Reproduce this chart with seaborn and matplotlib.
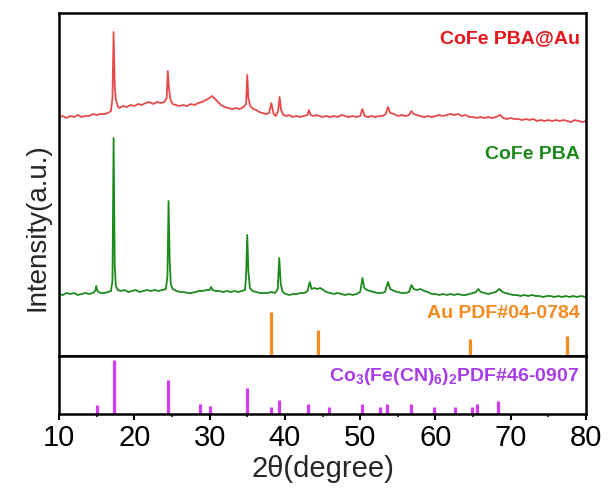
import pandas as pd
import seaborn as sns
import matplotlib.pyplot as plt
from matplotlib.ticker import MultipleLocator

# XRD traces (2theta, intensity in a.u.)
red_points = [
    (10.0, 239), (10.5, 240), (11.0, 238), (11.5, 240), (12.0, 239), (12.5, 241), (13.0, 239),
    (13.5, 240), (14.0, 240), (14.5, 242), (15.0, 241), (15.5, 242), (16.0, 242), (16.5, 243),
    (16.9, 245), (17.1, 258), (17.25, 324), (17.4, 270), (17.55, 256), (17.8, 250), (18.0, 248),
    (18.5, 250), (19.0, 249), (19.5, 251), (20.0, 250), (20.5, 252), (21.0, 251), (21.5, 253),
    (22.0, 254), (22.5, 252), (23.0, 254), (23.5, 253), (24.0, 254), (24.3, 258), (24.45, 285),
    (24.6, 268), (24.8, 256), (25.1, 252), (25.5, 251), (26.0, 250), (26.5, 251), (27.0, 250),
    (27.5, 252), (28.0, 251), (28.5, 253), (29.0, 254), (29.5, 256), (30.0, 258), (30.3, 260),
    (30.6, 258), (31.0, 255), (31.5, 251), (32.0, 249), (32.5, 248), (33.0, 247), (33.5, 248),
    (34.0, 247), (34.5, 249), (34.85, 252), (35.0, 281), (35.15, 258), (35.4, 250), (35.8, 247),
    (36.2, 246), (36.6, 244), (37.0, 243), (37.5, 242), (37.9, 243), (38.2, 253), (38.5, 242),
    (38.8, 240), (39.1, 245), (39.3, 259), (39.5, 246), (39.8, 241), (40.2, 240), (40.6, 241),
    (41.0, 239), (41.5, 240), (42.0, 239), (42.5, 240), (43.0, 241), (43.2, 246), (43.4, 241),
    (43.8, 240), (44.2, 241), (44.6, 240), (45.0, 239), (45.5, 240), (46.0, 239), (46.5, 240),
    (47.0, 239), (47.5, 241), (48.0, 240), (48.5, 239), (49.0, 240), (49.5, 239), (50.0, 240),
    (50.3, 247), (50.6, 240), (51.0, 239), (51.5, 240), (52.0, 239), (52.5, 240), (53.0, 240),
    (53.4, 242), (53.7, 249), (54.0, 243), (54.5, 242), (55.0, 240), (55.5, 241), (56.0, 240),
    (56.5, 241), (56.8, 245), (57.1, 242), (57.5, 241), (58.0, 240), (58.5, 239), (59.0, 240),
    (59.5, 239), (60.0, 240), (60.5, 241), (61.0, 240), (61.5, 241), (62.0, 242), (62.5, 241),
    (63.0, 242), (63.5, 240), (64.0, 241), (64.5, 239), (65.0, 239), (65.5, 238), (66.0, 239),
    (66.5, 238), (67.0, 239), (67.5, 238), (68.0, 239), (68.6, 241), (69.0, 238), (69.5, 237),
    (70.0, 238), (70.5, 237), (71.0, 237), (71.5, 236), (72.0, 237), (72.5, 236), (73.0, 237),
    (73.5, 235), (74.0, 236), (74.5, 235), (75.0, 236), (75.5, 235), (76.0, 236), (76.5, 235),
    (77.0, 236), (77.5, 235), (78.0, 234), (78.5, 236), (79.0, 235), (79.5, 234), (80.0, 235),
]

green_points = [
    (10.0, 62), (10.5, 61), (11.0, 63), (11.5, 62), (12.0, 63), (12.5, 61), (13.0, 62), (13.5, 63),
    (14.0, 62), (14.5, 63), (14.8, 65), (14.95, 70), (15.1, 65), (15.5, 63), (16.0, 63), (16.5, 64),
    (16.9, 65), (17.1, 75), (17.25, 218), (17.4, 90), (17.55, 70), (17.8, 66), (18.2, 65),
    (18.7, 66), (19.2, 64), (19.7, 65), (20.2, 66), (20.7, 64), (21.2, 65), (21.7, 66), (22.2, 65),
    (22.7, 66), (23.2, 65), (23.7, 66), (24.2, 67), (24.4, 80), (24.55, 155), (24.7, 95),
    (24.85, 72), (25.1, 67), (25.6, 65), (26.1, 64), (26.6, 64), (27.1, 63), (27.6, 63), (28.1, 64),
    (28.6, 65), (29.1, 65), (29.6, 66), (30.0, 66), (30.2, 69), (30.4, 66), (30.8, 65), (31.3, 65),
    (31.8, 64), (32.3, 65), (32.8, 64), (33.3, 65), (33.8, 64), (34.3, 65), (34.7, 66), (34.85, 80),
    (35.0, 121), (35.15, 85), (35.35, 68), (35.7, 65), (36.2, 64), (36.7, 63), (37.2, 63),
    (37.7, 63), (38.2, 64), (38.7, 63), (39.05, 67), (39.25, 98), (39.45, 72), (39.7, 64),
    (40.1, 62), (40.6, 61), (41.1, 62), (41.6, 62), (42.1, 63), (42.6, 63), (43.0, 65), (43.3, 74),
    (43.55, 67), (43.9, 68), (44.3, 67), (44.7, 68), (45.1, 66), (45.5, 64), (46.0, 63), (46.5, 62),
    (47.0, 63), (47.5, 62), (48.0, 61), (48.5, 62), (49.0, 61), (49.5, 62), (50.0, 64), (50.3, 78),
    (50.55, 68), (50.9, 66), (51.3, 65), (51.8, 64), (52.3, 63), (52.8, 63), (53.3, 64), (53.7, 74),
    (54.0, 67), (54.5, 65), (55.0, 64), (55.5, 63), (56.0, 63), (56.5, 64), (56.8, 71), (57.1, 67),
    (57.5, 66), (58.0, 67), (58.5, 65), (59.0, 64), (59.5, 62), (60.0, 62), (60.5, 61), (61.0, 62),
    (61.5, 61), (62.0, 62), (62.5, 61), (63.0, 62), (63.5, 61), (64.0, 61), (64.5, 62), (65.0, 63),
    (65.4, 64), (65.7, 67), (66.0, 64), (66.5, 63), (67.0, 62), (67.5, 63), (68.0, 64), (68.5, 67),
    (68.9, 64), (69.3, 63), (69.8, 62), (70.3, 61), (70.8, 61), (71.3, 60), (71.8, 61), (72.3, 60),
    (72.8, 61), (73.3, 60), (73.8, 60), (74.3, 59), (74.8, 60), (75.3, 60), (75.8, 59), (76.3, 60),
    (76.8, 59), (77.3, 60), (77.8, 59), (78.3, 60), (78.8, 59), (79.3, 60), (80.0, 59),
]

# reference cards
au_pos = [38.2, 44.4, 64.6, 77.5]
au_int = [44, 26, 17, 20]

co_pos = [15.0, 17.3, 24.5, 28.7, 30.1, 35.0, 38.1, 39.2, 43.1, 45.8,
          50.2, 52.6, 53.5, 56.7, 59.8, 62.6, 64.8, 65.5, 68.3]
co_int = [9, 54, 34, 10, 8, 26, 7, 14, 10, 7,
          10, 7, 10, 10, 7, 7, 7, 10, 13]

red_df = pd.DataFrame(red_points, columns=['two_theta', 'intensity'])
green_df = pd.DataFrame(green_points, columns=['two_theta', 'intensity'])

sns.set_theme(style='ticks')
plt.rcParams['font.family'] = ['Liberation Sans', 'DejaVu Sans']
plt.rcParams['mathtext.fontset'] = 'custom'
plt.rcParams['mathtext.rm'] = 'Liberation Sans'
plt.rcParams['mathtext.bf'] = 'Liberation Sans:bold'
plt.rcParams['mathtext.default'] = 'bf'

fig = plt.figure(figsize=(6.09, 4.93), dpi=100)
ax_top = fig.add_axes([0.0969, 0.2779, 0.8654, 0.6957])
ax_bot = fig.add_axes([0.0969, 0.1602, 0.8654, 0.1176])

sns.lineplot(data=red_df, x='two_theta', y='intensity', ax=ax_top,
             color='#e84a4a', linewidth=1.3, estimator=None)
sns.lineplot(data=green_df, x='two_theta', y='intensity', ax=ax_top,
             color='#1b8a1b', linewidth=1.3, estimator=None)
ax_top.vlines(au_pos, 0, au_int, color='#f58a1f', linewidth=2.3)
ax_bot.vlines(co_pos, 0, co_int, color='#d43cf5', linewidth=2.3)

ax_top.set_xlim(10, 80)
ax_top.set_ylim(0, 343)
ax_bot.set_xlim(10, 80)
ax_bot.set_ylim(0, 58)

for ax in (ax_top, ax_bot):
    for sp in ax.spines.values():
        sp.set_linewidth(1.8)
        sp.set_color('black')
    ax.set_yticks([])
    ax.set_ylabel('')
    ax.set_xlabel('')

ax_top.set_xticks([])
ax_bot.xaxis.set_major_locator(MultipleLocator(10))
ax_bot.xaxis.set_minor_locator(MultipleLocator(5))
ax_bot.tick_params(axis='x', which='major', direction='out', length=4, width=1.5,
                   labelsize=21, pad=3, colors='black')
ax_bot.tick_params(axis='x', which='minor', direction='out', length=2.5, width=1.3)
ax_bot.set_xlabel('2θ(degree)', fontsize=21, labelpad=2)

fig.text(0.062, 0.54, 'Intensity(a.u.)', rotation=90, fontsize=20,
         ha='center', va='center')

tr = ax_top.get_yaxis_transform()
ax_top.text(0.988, 317, 'CoFe PBA@Au', transform=tr, ha='right', va='center',
            fontsize=14, fontweight='bold', color='#e8141c')
ax_top.text(0.988, 202, 'CoFe PBA', transform=tr, ha='right', va='center',
            fontsize=14, fontweight='bold', color='#1b8a1b')
ax_top.text(0.988, 42, 'Au PDF#04-0784', transform=tr, ha='right', va='center',
            fontsize=14, fontweight='bold', color='#f58a1f')
ax_bot.text(0.988, 0.64, r'Co$_3$(Fe(CN)$_6$)$_2$PDF#46-0907', transform=ax_bot.transAxes,
            ha='right', va='center', fontsize=14, fontweight='bold', color='#a83ce8')

fig.savefig('out.png', dpi=100)
